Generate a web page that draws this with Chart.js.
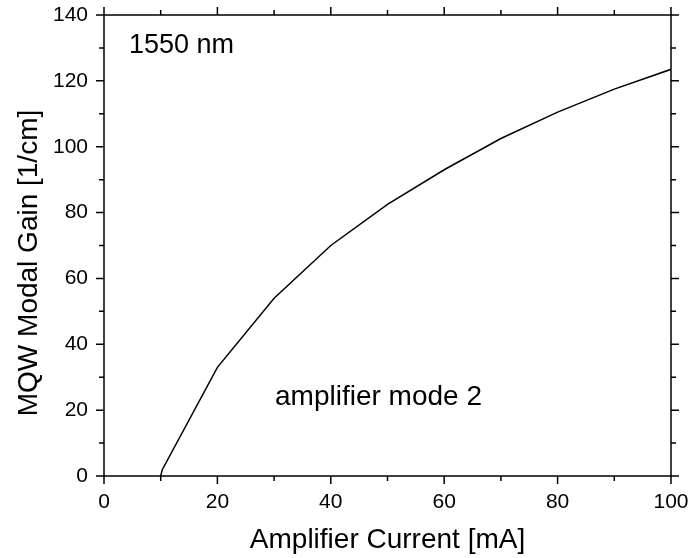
<!DOCTYPE html>
<html lang="en">
<head>
    <meta charset="UTF-8">
    <title>MQW Modal Gain</title>
    <script src="https://cdn.jsdelivr.net/npm/chart.js"></script>
    <style>
        body {
            margin: 0;
            padding: 0;
            background: #ffffff;
        }

        #wrap {
            width: 691px;
            height: 558px;
        }
    </style>
</head>
<body>
    <div id="wrap">
        <canvas id="gainChart" width="691" height="558"></canvas>
    </div>

    <script>
        // values
        const currentMA = [10, 10.3, 20, 30, 40, 50, 60, 70, 80, 90, 100];
        const modalGain = [0, 2, 33, 54, 70, 82.5, 93, 102.5, 110.5, 117.5, 123.5];
        const xTicks = [0, 20, 40, 60, 80, 100];
        const yTicks = [0, 20, 40, 60, 80, 100, 120, 140];

        const FONT = "'Liberation Sans', Arial, sans-serif";

        // frame, minor ticks, top/right ticks and the text labels
        const framePlugin = {
            id: "frame",
            afterDraw(chart) {
                const { ctx, chartArea: a, scales } = chart;
                const x = scales.x, y = scales.y;
                ctx.save();
                ctx.strokeStyle = "#000";
                ctx.lineWidth = 1.5;
                ctx.strokeRect(a.left, a.top, a.right - a.left, a.bottom - a.top);

                ctx.beginPath();
                for (let v = 0; v <= 100; v += 10) {
                    const px = x.getPixelForValue(v);
                    const len = v % 20 === 0 ? 8 : 5;
                    ctx.moveTo(px, a.bottom); ctx.lineTo(px, a.bottom + len);
                    ctx.moveTo(px, a.top); ctx.lineTo(px, a.top - len);
                }
                for (let v = 0; v <= 140; v += 10) {
                    const py = y.getPixelForValue(v);
                    const len = v % 20 === 0 ? 8 : 5;
                    ctx.moveTo(a.left, py); ctx.lineTo(a.left - len, py);
                    ctx.moveTo(a.right, py); ctx.lineTo(a.right + len, py);
                }
                ctx.stroke();

                ctx.fillStyle = "#000";
                ctx.textBaseline = "alphabetic";
                ctx.textAlign = "left";
                ctx.font = "27px " + FONT;
                ctx.fillText("1550 nm", 129, 53);
                ctx.font = "28px " + FONT;
                ctx.fillText("amplifier mode 2", 275, 405);

                // y axis title
                ctx.font = "28px " + FONT;
                ctx.translate(37, 263);
                ctx.rotate(-Math.PI / 2);
                ctx.textAlign = "center";
                ctx.fillText("MQW Modal Gain [1/cm]", 0, 0);
                ctx.restore();
            }
        };

        const ctx = document.getElementById("gainChart").getContext("2d");
        new Chart(ctx, {
            type: "scatter",
            data: {
                datasets: [{
                    data: currentMA.map((c, i) => ({ x: c, y: modalGain[i] })),
                    showLine: true,
                    borderColor: "#000",
                    borderWidth: 1.5,
                    pointRadius: 0,
                    tension: 0
                }]
            },
            options: {
                responsive: false,
                animation: false,
                layout: { padding: { left: 0, right: 20, top: 15, bottom: 0 } },
                plugins: {
                    legend: { display: false },
                    tooltip: { enabled: false }
                },
                scales: {
                    x: {
                        type: "linear",
                        min: 0,
                        max: 100,
                        afterFit(scale) {
                            scale.height = 82;
                            scale.paddingLeft = 0;
                            scale.paddingRight = 0;
                        },
                        afterBuildTicks(scale) { scale.ticks = xTicks.map(v => ({ value: v })); },
                        grid: { display: false, drawTicks: false },
                        border: { display: false },
                        ticks: {
                            color: "#000",
                            padding: 14,
                            maxRotation: 0,
                            font: { family: FONT, size: 21 }
                        },
                        title: {
                            display: true,
                            text: "Amplifier Current [mA]",
                            color: "#000",
                            font: { family: FONT, size: 28 },
                            padding: { top: 0, bottom: 1 }
                        }
                    },
                    y: {
                        type: "linear",
                        min: 0,
                        max: 140,
                        afterFit(scale) {
                            scale.width = 104;
                            scale.paddingTop = 0;
                            scale.paddingBottom = 0;
                        },
                        afterBuildTicks(scale) { scale.ticks = yTicks.map(v => ({ value: v })); },
                        grid: { display: false, drawTicks: false },
                        border: { display: false },
                        ticks: {
                            color: "#000",
                            padding: 16,
                            font: { family: FONT, size: 21 }
                        }
                    }
                }
            },
            plugins: [framePlugin]
        });
    </script>
</body>
</html>
